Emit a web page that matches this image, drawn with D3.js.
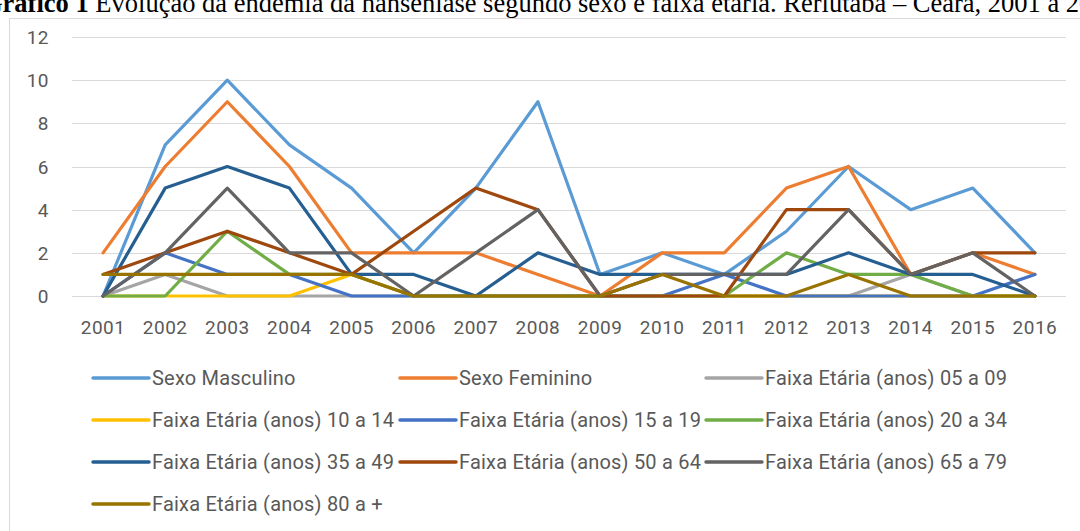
<!DOCTYPE html>
<html lang="pt">
<head>
<meta charset="UTF-8">
<title>Hanseníase - Reriutaba</title>
<style>
  body { margin: 0; background: #fff; }
  svg text { font-family: Roboto, "DejaVu Sans", sans-serif; }
  .title { font-family: "Liberation Serif", "Times New Roman", serif !important; font-size: 26.5px; fill: #000; }
  .tick-label { font-size: 19px; fill: #595959; letter-spacing: 0.5px; }
  .legend-label { font-size: 20px; fill: #595959; letter-spacing: 0.2px; }
</style>
</head>
<body>
<div id="chart"></div>
<script src="https://d3js.org/d3.v7.min.js"></script>
<script>
// years on the category axis
const years = ["2001","2002","2003","2004","2005","2006","2007","2008","2009","2010","2011","2012","2013","2014","2015","2016"];
const yTicks = [0, 2, 4, 6, 8, 10, 12];

// series values
const masculino = [0, 7, 10, 7, 5, 2, 5, 9, 1, 2, 1, 3, 6, 4, 5, 2];
const feminino  = [2, 6, 9, 6, 2, 2, 2, 1, 0, 2, 2, 5, 6, 1, 2, 1];
const fx05a09   = [0, 1, 0, 0, 0, 0, 0, 0, 0, 0, 0, 0, 0, 1, 0, 0];
const fx10a14   = [0, 0, 0, 0, 1, 0, 0, 0, 0, 0, 0, 0, 0, 0, 0, 0];
const fx15a19   = [0, 2, 1, 1, 0, 0, 0, 0, 0, 0, 1, 0, 0, 0, 0, 1];
const fx20a34   = [0, 0, 3, 1, 1, 0, 0, 0, 0, 0, 0, 2, 1, 1, 0, 0];
const fx35a49   = [0, 5, 6, 5, 1, 1, 0, 2, 1, 1, 1, 1, 2, 1, 1, 0];
const fx50a64   = [1, 2, 3, 2, 1, 3, 5, 4, 0, 0, 0, 4, 4, 1, 2, 2];
const fx65a79   = [0, 2, 5, 2, 2, 0, 2, 4, 0, 1, 1, 1, 4, 1, 2, 0];
const fx80mais  = [1, 1, 1, 1, 1, 0, 0, 0, 0, 1, 0, 0, 1, 0, 0, 0];

const seriesNames = [
  "Sexo Masculino", "Sexo Feminino", "Faixa Etária (anos) 05 a 09",
  "Faixa Etária (anos) 10 a 14", "Faixa Etária (anos) 15 a 19", "Faixa Etária (anos) 20 a 34",
  "Faixa Etária (anos) 35 a 49", "Faixa Etária (anos) 50 a 64", "Faixa Etária (anos) 65 a 79",
  "Faixa Etária (anos) 80 a +"
];
const seriesValues = [masculino, feminino, fx05a09, fx10a14, fx15a19, fx20a34, fx35a49, fx50a64, fx65a79, fx80mais];
const seriesColors = ["#5b9bd5", "#ed7d31", "#a5a5a5", "#ffc000", "#4472c4", "#70ad47", "#255e91", "#9e480e", "#636363", "#997300"];

const width = 1080, height = 531;

const svg = d3.select("#chart").append("svg")
  .attr("width", width)
  .attr("height", height);

// chart area border
svg.append("rect")
  .attr("x", 9.5).attr("y", 18.5)
  .attr("width", 1080).attr("height", 520)
  .attr("fill", "#fff")
  .attr("stroke", "#d9d9d9");

// caption, cut off at the top of the picture like in the source
const title = svg.append("text")
  .attr("class", "title")
  .attr("x", -18)
  .attr("y", 12);
title.append("tspan").attr("font-weight", "bold").text("Gráfico 1 ");
title.append("tspan").text("Evolução da endemia da hanseníase segundo sexo e faixa etária. Reriutaba – Ceará, 2001 a 2016");

const x = d3.scaleBand().domain(years).range([72, 1066]);
const y = d3.scaleLinear().domain([0, 12]).range([296, 37]);

// gridlines
svg.append("g")
  .selectAll("line")
  .data(yTicks)
  .join("line")
  .attr("x1", 72).attr("x2", 1066)
  .attr("y1", d => Math.round(y(d)) + 0.5)
  .attr("y2", d => Math.round(y(d)) + 0.5)
  .attr("stroke", "#d9d9d9")
  .attr("stroke-width", 1);

// y labels
svg.append("g")
  .selectAll("text")
  .data(yTicks)
  .join("text")
  .attr("class", "tick-label")
  .attr("x", 49)
  .attr("y", d => y(d) + 7)
  .attr("text-anchor", "end")
  .text(d => d);

// x labels
svg.append("g")
  .selectAll("text")
  .data(years)
  .join("text")
  .attr("class", "tick-label")
  .attr("x", d => x(d) + x.bandwidth() / 2)
  .attr("y", 334)
  .attr("text-anchor", "middle")
  .text(d => d);

// lines
const line = d3.line()
  .x((d, i) => x(years[i]) + x.bandwidth() / 2)
  .y(d => y(d));

svg.append("g")
  .selectAll("path")
  .data(seriesValues)
  .join("path")
  .attr("d", d => line(d))
  .attr("fill", "none")
  .attr("stroke", (d, i) => seriesColors[i])
  .attr("stroke-width", 3.2)
  .attr("stroke-linejoin", "round")
  .attr("stroke-linecap", "round");

// legend, 3 per row
const colX = [93, 400, 706];
const rowY = [378, 420, 462, 504];
const legend = svg.append("g")
  .selectAll("g")
  .data(seriesNames)
  .join("g")
  .attr("transform", (d, i) => `translate(${colX[i % 3]},${rowY[Math.floor(i / 3)]})`);

legend.append("line")
  .attr("x1", 0).attr("x2", 56)
  .attr("y1", 0).attr("y2", 0)
  .attr("stroke", (d, i) => seriesColors[i])
  .attr("stroke-width", 3.5)
  .attr("stroke-linecap", "round");

legend.append("text")
  .attr("class", "legend-label")
  .attr("x", 59)
  .attr("y", 7)
  .text(d => d);
</script>
</body>
</html>
